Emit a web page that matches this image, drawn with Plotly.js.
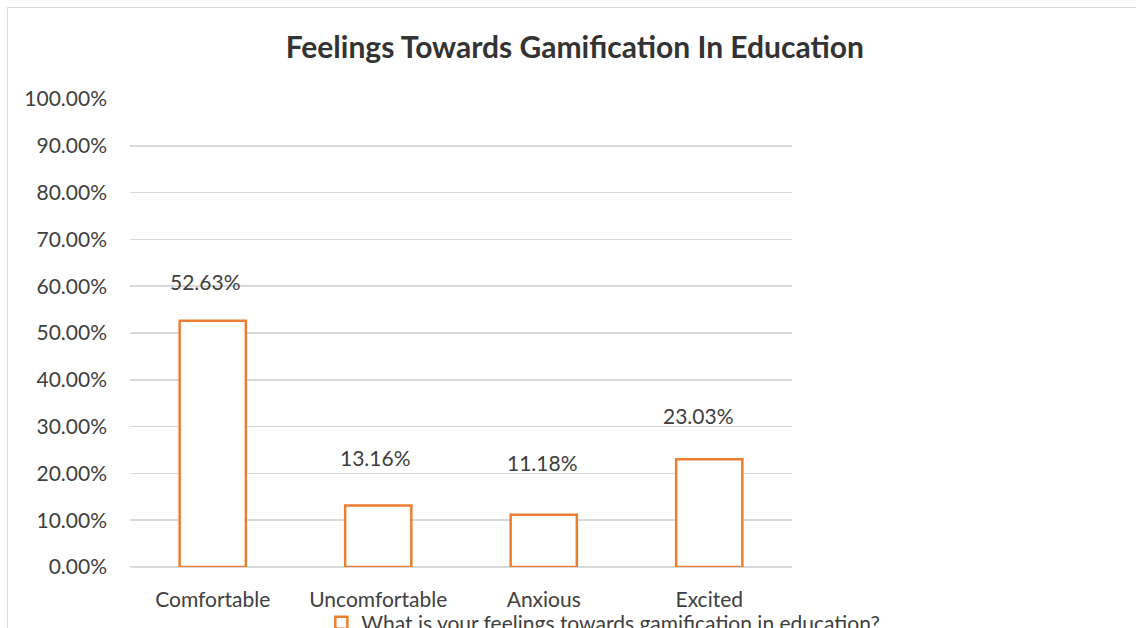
<!DOCTYPE html>
<html>
<head>
<meta charset="utf-8">
<script src="https://cdn.plot.ly/plotly-3.0.1.min.js"></script>
<style>
  html, body { margin: 0; padding: 0; background: #ffffff; overflow: hidden; }
  #chart { position: absolute; left: 0; top: 0; width: 1136px; height: 628px; }
  #frame { position: absolute; left: 7px; top: 7px; width: 1200px; height: 700px;
           border: 1px solid #d9d9d9; pointer-events: none; }
</style>
</head>
<body>
<div id="chart"></div>
<div id="frame"></div>
<script>
// Survey answers and their shares
const categories = ['Comfortable', 'Uncomfortable', 'Anxious', 'Excited'];
const shares = [0.5263, 0.1316, 0.1118, 0.2303];
const shareLabels = ['52.63%', '13.16%', '11.18%', '23.03%'];
const yTickValues = [0, 0.1, 0.2, 0.3, 0.4, 0.5, 0.6, 0.7, 0.8, 0.9, 1.0];
const yTickLabels = ['0.00%', '10.00%', '20.00%', '30.00%', '40.00%', '50.00%',
                     '60.00%', '70.00%', '80.00%', '90.00%', '100.00%'];
const seriesName = 'What is your feelings towards gamification in education?';

// label nudges (pixels) above each bar top
const labelDX = [-7, -3, -1, -11];
const labelDY = [39, 48, 52, 44];

const FONT = 'Lato, "Open Sans", sans-serif';
const TEXT = '#404040';
const ORANGE = '#ed7d31';
const GRID = '#d9d9d9';
const FS = 21;

const trace = {
  type: 'bar',
  x: categories,
  y: shares,
  name: seriesName,
  width: 0.4,
  marker: { color: '#ffffff', line: { color: ORANGE, width: 2.5 } },
  hoverinfo: 'x+y',
  showlegend: true
};

const annotations = categories.map((c, i) => ({
  x: c, y: shares[i], xref: 'x', yref: 'y',
  text: shareLabels[i], showarrow: false,
  xshift: labelDX[i], yshift: labelDY[i],
  font: { family: FONT, size: FS, color: TEXT }
}));

const layout = {
  width: 1136, height: 628,
  paper_bgcolor: '#ffffff', plot_bgcolor: '#ffffff',
  margin: { l: 130, r: 344, t: 99, b: 61, pad: 0, autoexpand: false },
  title: {
    text: '<b>Feelings Towards Gamification In Education</b>',
    font: { family: FONT, size: 30, color: '#333333' },
    x: 0.506, xanchor: 'center', y: 0.925, yanchor: 'middle'
  },
  xaxis: {
    type: 'category',
    showgrid: false, zeroline: false, showline: false,
    ticks: '', ticklabelstandoff: 18,
    tickfont: { family: FONT, size: FS, color: TEXT },
    fixedrange: true
  },
  yaxis: {
    range: [0, 1.0],
    tickvals: yTickValues, ticktext: yTickLabels,
    showgrid: true, gridcolor: GRID, gridwidth: 1.5,
    zeroline: true, zerolinecolor: GRID, zerolinewidth: 1.5,
    showline: false, ticks: '', ticklabelstandoff: 22,
    tickfont: { family: FONT, size: FS, color: TEXT },
    fixedrange: true
  },
  bargap: 0.6,
  showlegend: true,
  legend: {
    orientation: 'h', x: 0.715, xanchor: 'center',
    y: -0.12, yanchor: 'middle',
    bgcolor: 'rgba(0,0,0,0)',
    font: { family: FONT, size: FS, color: TEXT },
    itemwidth: 30
  },
  annotations: annotations
};

Plotly.newPlot('chart', [trace], layout, { displayModeBar: false, staticPlot: true });
</script>
</body>
</html>
